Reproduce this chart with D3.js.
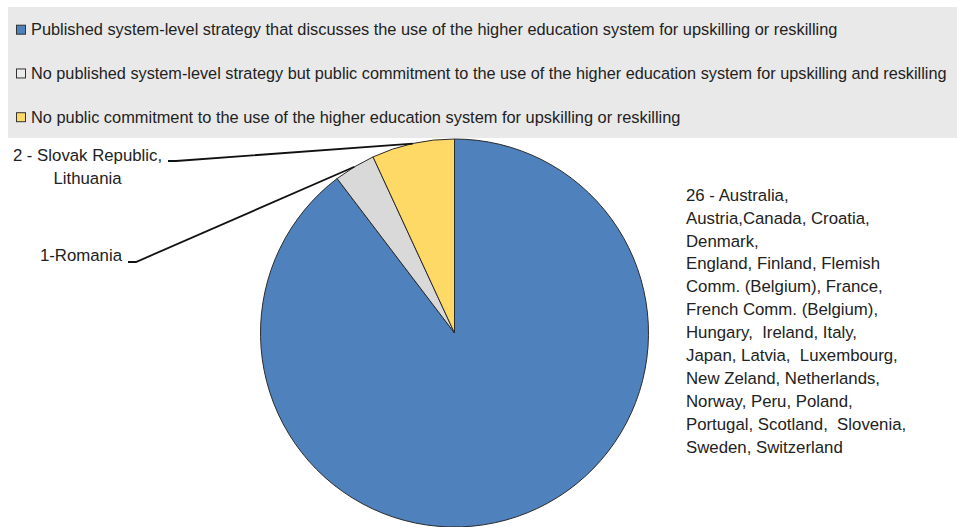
<!DOCTYPE html>
<html>
<head>
<meta charset="utf-8">
<script src="https://cdn.jsdelivr.net/npm/d3@7"></script>
<style>
  html, body { margin: 0; padding: 0; background: #fff; }
  svg { display: block; font-family: "Liberation Sans", Arial, sans-serif; }
  text { white-space: pre; }
</style>
</head>
<body>
<svg id="chart" width="957" height="527"></svg>
<script>
// Categories of national approaches and the number of systems in each
const categories = [
  "Published system-level strategy that discusses the use of the higher education system for upskilling or reskilling",
  "No published system-level strategy but public commitment to the use of the higher education system for upskilling and reskilling",
  "No public commitment to the use of the higher education system for upskilling or reskilling"
];
const counts = [26, 1, 2];
const colors = ["#4f81bd", "#d9d9d9", "#ffd966"];
const legendSwatch = ["#4f81bd", "#ececec", "#ffd966"];

// Slice annotations (one array of text lines per category)
const sliceLabels = [
  ["26 - Australia,", "Austria,Canada, Croatia,", "Denmark,", "England, Finland, Flemish",
   "Comm. (Belgium), France,", "French Comm. (Belgium),", "Hungary,  Ireland, Italy,",
   "Japan, Latvia,  Luxembourg,", "New Zeland, Netherlands,", "Norway, Peru, Poland,",
   "Portugal, Scotland,  Slovenia,", "Sweden, Switzerland"],
  ["1-Romania"],
  ["2 - Slovak Republic,", "Lithuania"]
];

const svg = d3.select("#chart");

// ---- Legend panel ----
const legend = svg.append("g");
legend.append("rect")
  .attr("x", 8).attr("y", 7).attr("width", 949).attr("height", 131)
  .attr("fill", "#e9e9e9");

const legendY = d3.scalePoint().domain(d3.range(categories.length)).range([29.7, 117.2]);
const legendWidths = [807, 916, 650];

const items = legend.selectAll("g.item").data(categories).join("g")
  .attr("class", "item")
  .attr("transform", (d, i) => `translate(0,${legendY(i)})`);
items.append("rect")
  .attr("x", 16.5).attr("y", -4.5).attr("width", 9).attr("height", 9)
  .attr("fill", (d, i) => legendSwatch[i])
  .attr("stroke", "#333").attr("stroke-width", 1);
// Legend text is set in a tall, narrow style: squeeze each line horizontally
items.append("text")
  .attr("x", 0).attr("y", 5.5)
  .attr("font-size", 16.5)
  .attr("fill", "#222")
  .text(d => d)
  .each(function (d, i) {
    const natural = this.getComputedTextLength();
    const k = Math.min(1, legendWidths[i] / natural);
    d3.select(this).attr("transform", `translate(31,0) scale(${k},1)`);
  });

// ---- Pie ----
const cx = 454.5, cy = 333, radius = 194;
const pie = d3.pie().sort(null).value(d => d);
const arcs = pie(counts);
const arc = d3.arc().innerRadius(0).outerRadius(radius);
const rim = d3.arc().innerRadius(radius).outerRadius(radius);

const g = svg.append("g").attr("transform", `translate(${cx},${cy})`);
g.selectAll("path").data(arcs).join("path")
  .attr("d", arc)
  .attr("fill", (d, i) => colors[i])
  .attr("stroke", "#2b2b2b")
  .attr("stroke-width", 1);

// ---- Labels with leader lines ----
const labelFont = 16.8;

// Large slice: block of text on the right
svg.append("text")
  .attr("x", 686).attr("y", 200.7)
  .attr("font-size", labelFont).attr("fill", "#222")
  .selectAll("tspan").data(sliceLabels[0]).join("tspan")
  .attr("x", 686)
  .attr("dy", (d, i) => i === 0 ? 0 : 22.9)
  .text(d => d);

// Small slices: labels on the left joined to the mid-point of their arc
const leaders = [
  null,
  { anchor: [136, 262], textX: 122, textY: 260.7, align: "end" },
  { anchor: [176, 161], textX: 87.5, textY: 160.7, align: "middle" }
];

arcs.forEach((a, i) => {
  const L = leaders[i];
  if (!L) return;
  const [px, py] = rim.centroid(a);
  const end = [cx + px, cy + py];
  svg.append("path")
    .attr("d", d3.line()([[L.anchor[0] - 8, L.anchor[1]], L.anchor, end]))
    .attr("fill", "none")
    .attr("stroke", "#111")
    .attr("stroke-width", 1.8);
  svg.append("text")
    .attr("x", L.textX).attr("y", L.textY)
    .attr("font-size", labelFont).attr("fill", "#222")
    .attr("text-anchor", L.align)
    .selectAll("tspan").data(sliceLabels[i]).join("tspan")
    .attr("x", L.textX)
    .attr("dy", (d, k) => k === 0 ? 0 : 23)
    .text(d => d);
});
</script>
</body>
</html>
